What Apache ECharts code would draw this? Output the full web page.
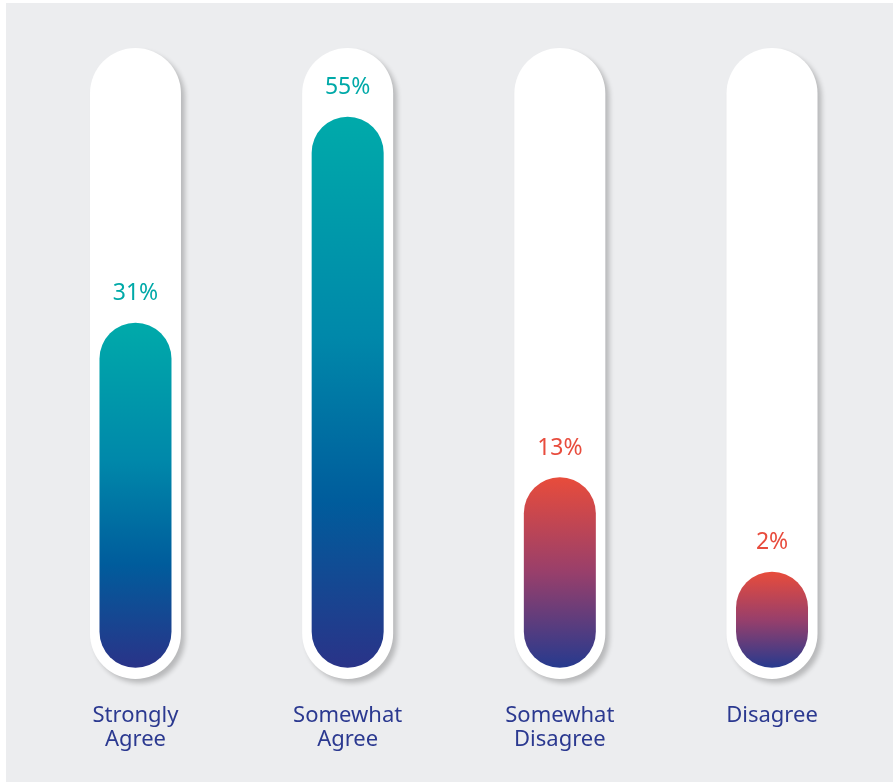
<!DOCTYPE html>
<html>
<head>
<meta charset="utf-8">
<script src="https://cdn.jsdelivr.net/npm/echarts@6/dist/echarts.min.js"></script>
<style>
  html, body { margin: 0; padding: 0; background: #ffffff; }
  #chart { position: absolute; left: 6px; top: 3px; width: 887px; height: 779px; }
</style>
</head>
<body>
<div id="chart"></div>
<script>
// Survey answers and their shares (%)
const categories = ['Strongly\nAgree', 'Somewhat\nAgree', 'Somewhat\nDisagree', 'Disagree'];
const shares = [31, 55, 13, 2];
const sentiment = ['agree', 'agree', 'disagree', 'disagree'];

// Value axis extent; bars grow up from a bulb that sits below zero
const AXIS_MIN = -10.5;
const AXIS_MAX = 63;
const BAR_BASE = -9.2;

const TRACK_WIDTH = 91;
const BAR_WIDTH = 72;

const palette = {
  agree: {
    text: '#00A9A8',
    stops: [
      { offset: 0, color: '#00AAAA' },
      { offset: 0.4, color: '#0088AA' },
      { offset: 0.7, color: '#005C9C' },
      { offset: 1, color: '#2A3388' }
    ]
  },
  disagree: {
    text: '#E84C3D',
    stops: [
      { offset: 0, color: '#E84C3B' },
      { offset: 0.5, color: '#983F6B' },
      { offset: 1, color: '#263A8E' }
    ]
  }
};

const chart = echarts.init(document.getElementById('chart'), null, { renderer: 'canvas' });

chart.setOption({
  backgroundColor: '#ECEDEF',
  animation: false,
  grid: { left: 23.4, right: 14.9, top: 45, bottom: 103 },
  xAxis: {
    type: 'category',
    data: categories,
    axisLine: { show: false },
    axisTick: { show: false },
    splitLine: { show: false },
    axisLabel: {
      interval: 0,
      margin: 25,
      color: '#2B3990',
      fontFamily: 'Noto Sans',
      fontSize: 22,
      lineHeight: 24
    }
  },
  yAxis: {
    type: 'value',
    min: AXIS_MIN,
    max: AXIS_MAX,
    show: false
  },
  series: [
    {
      // white rounded tracks behind each bar
      type: 'custom',
      silent: true,
      data: categories.map((c, i) => [i]),
      renderItem: function (params, api) {
        const i = api.value(0);
        const top = api.coord([i, AXIS_MAX]);
        const bot = api.coord([i, AXIS_MIN]);
        return {
          type: 'rect',
          shape: {
            x: top[0] - TRACK_WIDTH / 2,
            y: top[1],
            width: TRACK_WIDTH,
            height: bot[1] - top[1],
            r: TRACK_WIDTH / 2
          },
          style: {
            fill: '#FFFFFF',
            shadowBlur: 5,
            shadowOffsetX: 4,
            shadowOffsetY: 4,
            shadowColor: 'rgba(0,0,0,0.22)'
          }
        };
      }
    },
    {
      // gradient bars with their share labels
      type: 'custom',
      data: shares.map((v, i) => [i, v]),
      renderItem: function (params, api) {
        const i = api.value(0);
        const v = api.value(1);
        const top = api.coord([i, v]);
        const base = api.coord([i, BAR_BASE]);
        const p = palette[sentiment[i]];
        return {
          type: 'group',
          children: [
            {
              type: 'rect',
              shape: {
                x: top[0] - BAR_WIDTH / 2,
                y: top[1],
                width: BAR_WIDTH,
                height: base[1] - top[1],
                r: BAR_WIDTH / 2
              },
              style: {
                fill: new echarts.graphic.LinearGradient(0, 0, 0, 1, p.stops)
              }
            },
            {
              type: 'text',
              style: {
                text: v + '%',
                x: top[0],
                y: top[1] - 29,
                align: 'center',
                verticalAlign: 'middle',
                fill: p.text,
                fontFamily: 'Noto Sans',
                fontSize: 23
              }
            }
          ]
        };
      }
    }
  ]
});
</script>
</body>
</html>
